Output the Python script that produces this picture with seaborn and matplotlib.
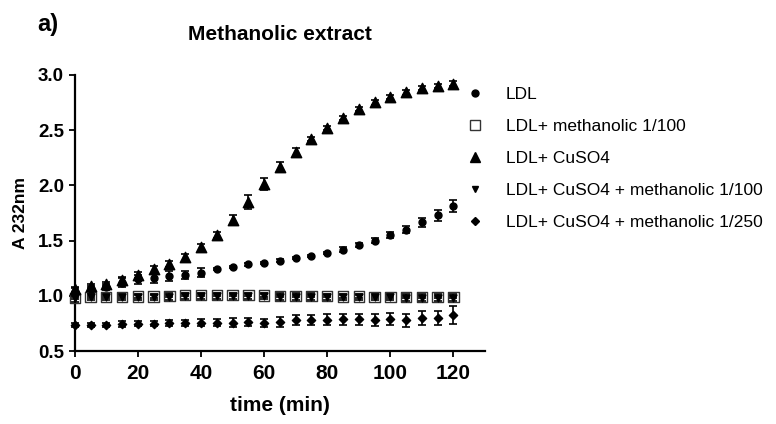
import numpy as np
import pandas as pd
import matplotlib
matplotlib.use("Agg")
import matplotlib.pyplot as plt
from matplotlib.lines import Line2D
import seaborn as sns

# Time points (min)
time = list(range(0, 125, 5))

# Absorbance at 232 nm (mean) and error (SEM) for each condition
ldl = [1.04, 1.06, 1.08, 1.12, 1.15, 1.16, 1.18, 1.19, 1.21, 1.245, 1.265, 1.285, 1.30,
       1.32, 1.34, 1.36, 1.39, 1.42, 1.46, 1.50, 1.55, 1.60, 1.665, 1.73, 1.81]
ldl_err = [0.03, 0.03, 0.03, 0.04, 0.04, 0.045, 0.045, 0.04, 0.04, 0.01, 0.01, 0.01, 0.01,
           0.01, 0.01, 0.01, 0.01, 0.02, 0.02, 0.025, 0.03, 0.035, 0.04, 0.05, 0.055]

meth100 = [0.98, 0.99, 0.99, 0.99, 0.995, 0.995, 1.0, 1.01, 1.01, 1.01, 1.01, 1.01, 1.005,
           1.0, 1.0, 1.0, 1.0, 0.995, 0.995, 0.99, 0.99, 0.99, 0.99, 0.99, 0.99]
meth100_err = [0.01] * 25

cuso4 = [1.06, 1.09, 1.11, 1.14, 1.19, 1.24, 1.29, 1.35, 1.44, 1.55, 1.69, 1.85, 2.01,
         2.17, 2.30, 2.42, 2.52, 2.61, 2.69, 2.75, 2.80, 2.84, 2.88, 2.90, 2.92]
cuso4_err = [0.02, 0.02, 0.02, 0.03, 0.03, 0.03, 0.03, 0.03, 0.03, 0.03, 0.045, 0.06, 0.055,
             0.045, 0.04, 0.02, 0.02, 0.02, 0.02, 0.02, 0.02, 0.02, 0.02, 0.02, 0.02]

cuso4_m100 = [0.98, 0.99, 0.99, 0.99, 0.99, 0.99, 0.995, 1.0, 1.0, 1.0, 1.0, 1.0, 1.0,
              0.995, 0.995, 0.995, 0.99, 0.99, 0.99, 0.99, 0.99, 0.985, 0.985, 0.985, 0.985]
cuso4_m100_err = [0.03] * 25

cuso4_m250 = [0.74, 0.735, 0.74, 0.745, 0.75, 0.75, 0.755, 0.755, 0.76, 0.76, 0.76, 0.765, 0.755,
              0.767, 0.78, 0.78, 0.785, 0.79, 0.79, 0.78, 0.79, 0.78, 0.80, 0.80, 0.83]
cuso4_m250_err = [0.02, 0.02, 0.02, 0.025, 0.025, 0.025, 0.03, 0.03, 0.035, 0.035, 0.04, 0.04, 0.04,
                  0.045, 0.045, 0.045, 0.05, 0.05, 0.05, 0.055, 0.055, 0.06, 0.06, 0.065, 0.08]

labels = ["LDL", "LDL+ methanolic 1/100", "LDL+ CuSO4",
          "LDL+ CuSO4 + methanolic 1/100", "LDL+ CuSO4 + methanolic 1/250"]

df = pd.concat([
    pd.DataFrame({"time": time, "A": vals, "err": errs, "group": lab})
    for lab, vals, errs in zip(
        labels,
        [ldl, meth100, cuso4, cuso4_m100, cuso4_m250],
        [ldl_err, meth100_err, cuso4_err, cuso4_m100_err, cuso4_m250_err])
], ignore_index=True)

sns.set_theme(style="ticks")
plt.rcParams["font.family"] = ["Liberation Sans", "DejaVu Sans"]
plt.rcParams.update({"text.color": "black", "axes.labelcolor": "black",
                     "xtick.color": "black", "ytick.color": "black"})

fig = plt.figure(figsize=(7.76, 4.24), dpi=100)
ax = fig.add_axes([0.0963, 0.1715, 0.625 - 0.0963, 0.8238 - 0.1715])

# marker styles: (marker, size in pt, facecolor, edgecolor)
styles = {
    labels[0]: ("o", 5.0, "black", "black"),
    labels[1]: ("s", 7.5, "none", "#333333"),
    labels[2]: ("^", 7.5, "black", "black"),
    labels[3]: ("v", 5.0, "black", "black"),
    labels[4]: ("D", 4.2, "black", "black"),
}
draw_order = [labels[1], labels[4], labels[0], labels[2], labels[3]]

for lab in draw_order:
    sub = df[df["group"] == lab]
    mk, ms, fc, ec = styles[lab]
    ax.errorbar(sub["time"], sub["A"], yerr=sub["err"], fmt="none",
                ecolor="black", elinewidth=1.2, capsize=2.6, capthick=1.2,
                clip_on=False, zorder=3)
    sns.scatterplot(data=sub, x="time", y="A", ax=ax, marker=mk, s=ms ** 2,
                    color=fc if fc != "none" else "white",
                    facecolor=fc, edgecolor=ec, linewidth=1.0,
                    clip_on=False, zorder=4, legend=False)

ax.set_xlim(0, 130)
ax.set_ylim(0.5, 3.0)
ax.set_xticks(range(0, 121, 20))
ax.set_yticks(np.arange(0.5, 3.01, 0.5))
ax.set_yticklabels([f"{v:.1f}" for v in np.arange(0.5, 3.01, 0.5)])

for side in ("top", "right"):
    ax.spines[side].set_visible(False)
for side in ("left", "bottom"):
    ax.spines[side].set_linewidth(1.6)
    ax.spines[side].set_color("black")

ax.tick_params(axis="both", direction="out", length=4.2, width=1.3, color="black")
ax.tick_params(axis="x", labelsize=15, pad=5)
ax.tick_params(axis="y", labelsize=13.5, pad=3.5)
for t in ax.get_xticklabels() + ax.get_yticklabels():
    t.set_fontweight("bold")

ax.set_xlabel("time (min)", fontsize=15, fontweight="bold", labelpad=9)
ax.set_ylabel("A 232nm", fontsize=12.5, fontweight="bold")
ax.yaxis.set_label_coords(-0.113, 0.5)
ax.set_title("Methanolic extract", fontsize=15, fontweight="bold", pad=25)
fig.text(37 / 776, 1 - 31 / 424, "a)", fontsize=17, fontweight="bold", va="baseline")

handles = []
for lab in labels:
    mk, ms, fc, ec = styles[lab]
    handles.append(Line2D([], [], linestyle="none", marker=mk, markersize=ms,
                          markerfacecolor="white" if fc == "none" else fc,
                          markeredgecolor=ec, markeredgewidth=1.0))
ax.legend(handles, labels, loc="upper left",
          bbox_to_anchor=(466 / 776, 1 - 87 / 424), bbox_transform=fig.transFigure,
          frameon=False, fontsize=12.5, handlelength=1.0, handletextpad=1.28,
          labelspacing=0.97, borderpad=0, borderaxespad=0, labelcolor="black")

fig.savefig("out.png", dpi=100)
